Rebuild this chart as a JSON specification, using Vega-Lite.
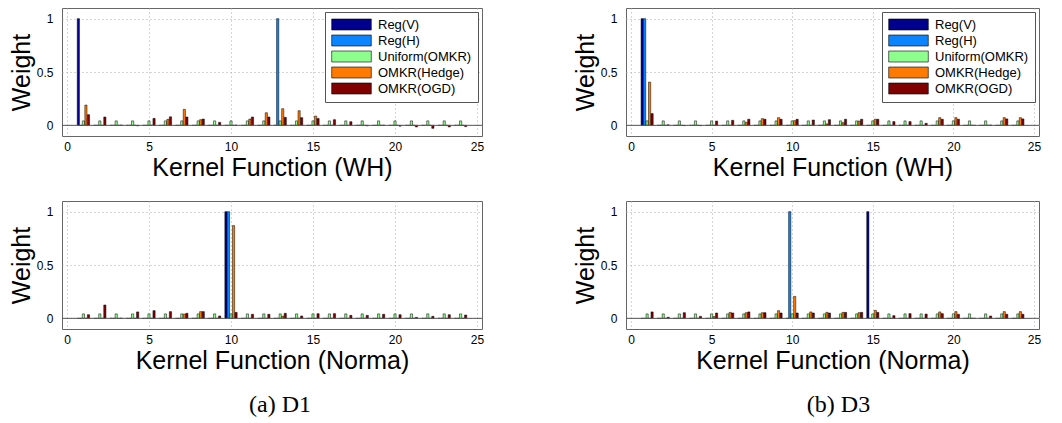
{
  "$schema": "https://vega.github.io/schema/vega-lite/v6.json",
  "padding": {"left": 8, "top": 7, "right": 5, "bottom": 5},
  "background": "white",
  "datasets": {
    "d1wh": [
      {"k":1,"Reg(V)":1,"Reg(H)":0,"Uniform(OMKR)":0.0417,"OMKR(Hedge)":0.19,"OMKR(OGD)":0.10},
      {"k":2,"Reg(V)":0,"Reg(H)":0,"Uniform(OMKR)":0.0417,"OMKR(Hedge)":0,"OMKR(OGD)":0.078},
      {"k":3,"Reg(V)":0,"Reg(H)":0,"Uniform(OMKR)":0.0417,"OMKR(Hedge)":0,"OMKR(OGD)":0.003},
      {"k":4,"Reg(V)":0,"Reg(H)":0,"Uniform(OMKR)":0.0417,"OMKR(Hedge)":0,"OMKR(OGD)":-0.005},
      {"k":5,"Reg(V)":0,"Reg(H)":0,"Uniform(OMKR)":0.0417,"OMKR(Hedge)":0,"OMKR(OGD)":0.065},
      {"k":6,"Reg(V)":0,"Reg(H)":0,"Uniform(OMKR)":0.0417,"OMKR(Hedge)":0.056,"OMKR(OGD)":0.08},
      {"k":7,"Reg(V)":0,"Reg(H)":0,"Uniform(OMKR)":0.0417,"OMKR(Hedge)":0.15,"OMKR(OGD)":0.078},
      {"k":8,"Reg(V)":0,"Reg(H)":0,"Uniform(OMKR)":0.0417,"OMKR(Hedge)":0.053,"OMKR(OGD)":0.059},
      {"k":9,"Reg(V)":0,"Reg(H)":0,"Uniform(OMKR)":0.0417,"OMKR(Hedge)":0,"OMKR(OGD)":0.028},
      {"k":10,"Reg(V)":0,"Reg(H)":0,"Uniform(OMKR)":0.0417,"OMKR(Hedge)":0,"OMKR(OGD)":0.002},
      {"k":11,"Reg(V)":0,"Reg(H)":0,"Uniform(OMKR)":0.0417,"OMKR(Hedge)":0.059,"OMKR(OGD)":0.078},
      {"k":12,"Reg(V)":0,"Reg(H)":0,"Uniform(OMKR)":0.0417,"OMKR(Hedge)":0.118,"OMKR(OGD)":0.078},
      {"k":13,"Reg(V)":0,"Reg(H)":1,"Uniform(OMKR)":0.0417,"OMKR(Hedge)":0.156,"OMKR(OGD)":0.075},
      {"k":14,"Reg(V)":0,"Reg(H)":0,"Uniform(OMKR)":0.0417,"OMKR(Hedge)":0.137,"OMKR(OGD)":0.072},
      {"k":15,"Reg(V)":0,"Reg(H)":0,"Uniform(OMKR)":0.0417,"OMKR(Hedge)":0.087,"OMKR(OGD)":0.065},
      {"k":16,"Reg(V)":0,"Reg(H)":0,"Uniform(OMKR)":0.0417,"OMKR(Hedge)":0,"OMKR(OGD)":0.053},
      {"k":17,"Reg(V)":0,"Reg(H)":0,"Uniform(OMKR)":0.0417,"OMKR(Hedge)":0,"OMKR(OGD)":0.034},
      {"k":18,"Reg(V)":0,"Reg(H)":0,"Uniform(OMKR)":0.0417,"OMKR(Hedge)":0,"OMKR(OGD)":-0.005},
      {"k":19,"Reg(V)":0,"Reg(H)":0,"Uniform(OMKR)":0.0417,"OMKR(Hedge)":0,"OMKR(OGD)":0.002},
      {"k":20,"Reg(V)":0,"Reg(H)":0,"Uniform(OMKR)":0.0417,"OMKR(Hedge)":0,"OMKR(OGD)":-0.008},
      {"k":21,"Reg(V)":0,"Reg(H)":0,"Uniform(OMKR)":0.0417,"OMKR(Hedge)":0,"OMKR(OGD)":-0.015},
      {"k":22,"Reg(V)":0,"Reg(H)":0,"Uniform(OMKR)":0.0417,"OMKR(Hedge)":0,"OMKR(OGD)":-0.028},
      {"k":23,"Reg(V)":0,"Reg(H)":0,"Uniform(OMKR)":0.0417,"OMKR(Hedge)":0,"OMKR(OGD)":-0.015},
      {"k":24,"Reg(V)":0,"Reg(H)":0,"Uniform(OMKR)":0.0417,"OMKR(Hedge)":0,"OMKR(OGD)":-0.012}
    ],
    "d3wh": [
      {"k":1,"Reg(V)":1,"Reg(H)":1,"Uniform(OMKR)":0.0417,"OMKR(Hedge)":0.405,"OMKR(OGD)":0.11},
      {"k":2,"Reg(V)":0,"Reg(H)":0,"Uniform(OMKR)":0.0417,"OMKR(Hedge)":0,"OMKR(OGD)":0.005},
      {"k":3,"Reg(V)":0,"Reg(H)":0,"Uniform(OMKR)":0.0417,"OMKR(Hedge)":0,"OMKR(OGD)":-0.003},
      {"k":4,"Reg(V)":0,"Reg(H)":0,"Uniform(OMKR)":0.0417,"OMKR(Hedge)":0,"OMKR(OGD)":-0.003},
      {"k":5,"Reg(V)":0,"Reg(H)":0,"Uniform(OMKR)":0.0417,"OMKR(Hedge)":0,"OMKR(OGD)":0.04},
      {"k":6,"Reg(V)":0,"Reg(H)":0,"Uniform(OMKR)":0.0417,"OMKR(Hedge)":0,"OMKR(OGD)":0.047},
      {"k":7,"Reg(V)":0,"Reg(H)":0,"Uniform(OMKR)":0.0417,"OMKR(Hedge)":0.028,"OMKR(OGD)":0.057},
      {"k":8,"Reg(V)":0,"Reg(H)":0,"Uniform(OMKR)":0.0417,"OMKR(Hedge)":0.063,"OMKR(OGD)":0.057},
      {"k":9,"Reg(V)":0,"Reg(H)":0,"Uniform(OMKR)":0.0417,"OMKR(Hedge)":0.072,"OMKR(OGD)":0.057},
      {"k":10,"Reg(V)":0,"Reg(H)":0,"Uniform(OMKR)":0.0417,"OMKR(Hedge)":0.044,"OMKR(OGD)":0.057},
      {"k":11,"Reg(V)":0,"Reg(H)":0,"Uniform(OMKR)":0.0417,"OMKR(Hedge)":0,"OMKR(OGD)":0.05},
      {"k":12,"Reg(V)":0,"Reg(H)":0,"Uniform(OMKR)":0.0417,"OMKR(Hedge)":0.013,"OMKR(OGD)":0.053},
      {"k":13,"Reg(V)":0,"Reg(H)":0,"Uniform(OMKR)":0.0417,"OMKR(Hedge)":0.025,"OMKR(OGD)":0.057},
      {"k":14,"Reg(V)":0,"Reg(H)":0,"Uniform(OMKR)":0.0417,"OMKR(Hedge)":0.04,"OMKR(OGD)":0.057},
      {"k":15,"Reg(V)":0,"Reg(H)":0,"Uniform(OMKR)":0.0417,"OMKR(Hedge)":0.057,"OMKR(OGD)":0.057},
      {"k":16,"Reg(V)":0,"Reg(H)":0,"Uniform(OMKR)":0.0417,"OMKR(Hedge)":0,"OMKR(OGD)":0.035},
      {"k":17,"Reg(V)":0,"Reg(H)":0,"Uniform(OMKR)":0.0417,"OMKR(Hedge)":0,"OMKR(OGD)":0.035},
      {"k":18,"Reg(V)":0,"Reg(H)":0,"Uniform(OMKR)":0.0417,"OMKR(Hedge)":0,"OMKR(OGD)":0.019},
      {"k":19,"Reg(V)":0,"Reg(H)":0,"Uniform(OMKR)":0.0417,"OMKR(Hedge)":0.072,"OMKR(OGD)":0.057},
      {"k":20,"Reg(V)":0,"Reg(H)":0,"Uniform(OMKR)":0.0417,"OMKR(Hedge)":0.072,"OMKR(OGD)":0.057},
      {"k":21,"Reg(V)":0,"Reg(H)":0,"Uniform(OMKR)":0.0417,"OMKR(Hedge)":0,"OMKR(OGD)":0},
      {"k":22,"Reg(V)":0,"Reg(H)":0,"Uniform(OMKR)":0.0417,"OMKR(Hedge)":0,"OMKR(OGD)":0.003},
      {"k":23,"Reg(V)":0,"Reg(H)":0,"Uniform(OMKR)":0.0417,"OMKR(Hedge)":0.072,"OMKR(OGD)":0.06},
      {"k":24,"Reg(V)":0,"Reg(H)":0,"Uniform(OMKR)":0.0417,"OMKR(Hedge)":0.072,"OMKR(OGD)":0.06}
    ],
    "d1no": [
      {"k":1,"Reg(V)":0,"Reg(H)":0,"Uniform(OMKR)":0.0417,"OMKR(Hedge)":0,"OMKR(OGD)":0.034},
      {"k":2,"Reg(V)":0,"Reg(H)":0,"Uniform(OMKR)":0.0417,"OMKR(Hedge)":0,"OMKR(OGD)":0.125},
      {"k":3,"Reg(V)":0,"Reg(H)":0,"Uniform(OMKR)":0.0417,"OMKR(Hedge)":0,"OMKR(OGD)":0.002},
      {"k":4,"Reg(V)":0,"Reg(H)":0,"Uniform(OMKR)":0.0417,"OMKR(Hedge)":0,"OMKR(OGD)":0.06},
      {"k":5,"Reg(V)":0,"Reg(H)":0,"Uniform(OMKR)":0.0417,"OMKR(Hedge)":0,"OMKR(OGD)":0.072},
      {"k":6,"Reg(V)":0,"Reg(H)":0,"Uniform(OMKR)":0.0417,"OMKR(Hedge)":0,"OMKR(OGD)":0.063},
      {"k":7,"Reg(V)":0,"Reg(H)":0,"Uniform(OMKR)":0.0417,"OMKR(Hedge)":0.04,"OMKR(OGD)":0.047},
      {"k":8,"Reg(V)":0,"Reg(H)":0,"Uniform(OMKR)":0.0417,"OMKR(Hedge)":0.063,"OMKR(OGD)":0.063},
      {"k":9,"Reg(V)":0,"Reg(H)":0,"Uniform(OMKR)":0.0417,"OMKR(Hedge)":0,"OMKR(OGD)":0.022},
      {"k":10,"Reg(V)":1,"Reg(H)":1,"Uniform(OMKR)":0.0417,"OMKR(Hedge)":0.87,"OMKR(OGD)":0.056},
      {"k":11,"Reg(V)":0,"Reg(H)":0,"Uniform(OMKR)":0.0417,"OMKR(Hedge)":0,"OMKR(OGD)":0.038},
      {"k":12,"Reg(V)":0,"Reg(H)":0,"Uniform(OMKR)":0.0417,"OMKR(Hedge)":0,"OMKR(OGD)":0.038},
      {"k":13,"Reg(V)":0,"Reg(H)":0,"Uniform(OMKR)":0.0417,"OMKR(Hedge)":0.02,"OMKR(OGD)":0.047},
      {"k":14,"Reg(V)":0,"Reg(H)":0,"Uniform(OMKR)":0.0417,"OMKR(Hedge)":0,"OMKR(OGD)":0.022},
      {"k":15,"Reg(V)":0,"Reg(H)":0,"Uniform(OMKR)":0.0417,"OMKR(Hedge)":0,"OMKR(OGD)":0.044},
      {"k":16,"Reg(V)":0,"Reg(H)":0,"Uniform(OMKR)":0.0417,"OMKR(Hedge)":0,"OMKR(OGD)":0.044},
      {"k":17,"Reg(V)":0,"Reg(H)":0,"Uniform(OMKR)":0.0417,"OMKR(Hedge)":0,"OMKR(OGD)":0.028},
      {"k":18,"Reg(V)":0,"Reg(H)":0,"Uniform(OMKR)":0.0417,"OMKR(Hedge)":0,"OMKR(OGD)":0.028},
      {"k":19,"Reg(V)":0,"Reg(H)":0,"Uniform(OMKR)":0.0417,"OMKR(Hedge)":0,"OMKR(OGD)":0.038},
      {"k":20,"Reg(V)":0,"Reg(H)":0,"Uniform(OMKR)":0.0417,"OMKR(Hedge)":0,"OMKR(OGD)":0.034},
      {"k":21,"Reg(V)":0,"Reg(H)":0,"Uniform(OMKR)":0.0417,"OMKR(Hedge)":0,"OMKR(OGD)":0.009},
      {"k":22,"Reg(V)":0,"Reg(H)":0,"Uniform(OMKR)":0.0417,"OMKR(Hedge)":0,"OMKR(OGD)":0.019},
      {"k":23,"Reg(V)":0,"Reg(H)":0,"Uniform(OMKR)":0.0417,"OMKR(Hedge)":0,"OMKR(OGD)":0.034},
      {"k":24,"Reg(V)":0,"Reg(H)":0,"Uniform(OMKR)":0.0417,"OMKR(Hedge)":0,"OMKR(OGD)":0.031}
    ],
    "d3no": [
      {"k":1,"Reg(V)":0,"Reg(H)":0,"Uniform(OMKR)":0.0417,"OMKR(Hedge)":0,"OMKR(OGD)":0.06},
      {"k":2,"Reg(V)":0,"Reg(H)":0,"Uniform(OMKR)":0.0417,"OMKR(Hedge)":0,"OMKR(OGD)":0.01},
      {"k":3,"Reg(V)":0,"Reg(H)":0,"Uniform(OMKR)":0.0417,"OMKR(Hedge)":0,"OMKR(OGD)":0.053},
      {"k":4,"Reg(V)":0,"Reg(H)":0,"Uniform(OMKR)":0.0417,"OMKR(Hedge)":0,"OMKR(OGD)":0.019},
      {"k":5,"Reg(V)":0,"Reg(H)":0,"Uniform(OMKR)":0.0417,"OMKR(Hedge)":0.016,"OMKR(OGD)":0.05},
      {"k":6,"Reg(V)":0,"Reg(H)":0,"Uniform(OMKR)":0.0417,"OMKR(Hedge)":0.056,"OMKR(OGD)":0.05},
      {"k":7,"Reg(V)":0,"Reg(H)":0,"Uniform(OMKR)":0.0417,"OMKR(Hedge)":0.053,"OMKR(OGD)":0.06},
      {"k":8,"Reg(V)":0,"Reg(H)":0,"Uniform(OMKR)":0.0417,"OMKR(Hedge)":0.053,"OMKR(OGD)":0.053},
      {"k":9,"Reg(V)":0,"Reg(H)":0,"Uniform(OMKR)":0.0417,"OMKR(Hedge)":0.072,"OMKR(OGD)":0.05},
      {"k":10,"Reg(V)":0,"Reg(H)":1,"Uniform(OMKR)":0.0417,"OMKR(Hedge)":0.206,"OMKR(OGD)":0.05},
      {"k":11,"Reg(V)":0,"Reg(H)":0,"Uniform(OMKR)":0.0417,"OMKR(Hedge)":0.06,"OMKR(OGD)":0.05},
      {"k":12,"Reg(V)":0,"Reg(H)":0,"Uniform(OMKR)":0.0417,"OMKR(Hedge)":0.056,"OMKR(OGD)":0.05},
      {"k":13,"Reg(V)":0,"Reg(H)":0,"Uniform(OMKR)":0.0417,"OMKR(Hedge)":0.056,"OMKR(OGD)":0.056},
      {"k":14,"Reg(V)":0,"Reg(H)":0,"Uniform(OMKR)":0.0417,"OMKR(Hedge)":0.053,"OMKR(OGD)":0.056},
      {"k":15,"Reg(V)":1,"Reg(H)":0,"Uniform(OMKR)":0.0417,"OMKR(Hedge)":0.075,"OMKR(OGD)":0.056},
      {"k":16,"Reg(V)":0,"Reg(H)":0,"Uniform(OMKR)":0.0417,"OMKR(Hedge)":0,"OMKR(OGD)":0.025},
      {"k":17,"Reg(V)":0,"Reg(H)":0,"Uniform(OMKR)":0.0417,"OMKR(Hedge)":0,"OMKR(OGD)":0.044},
      {"k":18,"Reg(V)":0,"Reg(H)":0,"Uniform(OMKR)":0.0417,"OMKR(Hedge)":0,"OMKR(OGD)":0.04},
      {"k":19,"Reg(V)":0,"Reg(H)":0,"Uniform(OMKR)":0.0417,"OMKR(Hedge)":0.06,"OMKR(OGD)":0.044},
      {"k":20,"Reg(V)":0,"Reg(H)":0,"Uniform(OMKR)":0.0417,"OMKR(Hedge)":0.063,"OMKR(OGD)":0.038},
      {"k":21,"Reg(V)":0,"Reg(H)":0,"Uniform(OMKR)":0.0417,"OMKR(Hedge)":0,"OMKR(OGD)":0},
      {"k":22,"Reg(V)":0,"Reg(H)":0,"Uniform(OMKR)":0.0417,"OMKR(Hedge)":0,"OMKR(OGD)":0.022},
      {"k":23,"Reg(V)":0,"Reg(H)":0,"Uniform(OMKR)":0.0417,"OMKR(Hedge)":0.063,"OMKR(OGD)":0.038},
      {"k":24,"Reg(V)":0,"Reg(H)":0,"Uniform(OMKR)":0.0417,"OMKR(Hedge)":0.063,"OMKR(OGD)":0.038}
    ],
    "zero": [{}]
  },
  "columns": 2,
  "spacing": {"row": 19, "column": 87},
  "resolve": {"legend": {"color": "independent"}},
  "concat": [
    {
      "width": 420, "height": 128,
      "layer": [
        {
          "data": {"name": "d1wh"},
          "transform": [
            {"fold": ["Reg(V)","Reg(H)","Uniform(OMKR)","OMKR(Hedge)","OMKR(OGD)"], "as": ["s","w"]},
            {"calculate": "datum.k + indexof(['Reg(V)','Reg(H)','Uniform(OMKR)','OMKR(Hedge)','OMKR(OGD)'], datum.s) * 0.154 - 0.308", "as": "xp"}
          ],
          "mark": {"type": "bar", "width": 2.2, "stroke": "black", "strokeWidth": 0.5},
          "encoding": {
            "x": {"field": "xp", "type": "quantitative", "scale": {"domain": [0,25], "nice": false}, "axis": {"values": [0,5,10,15,20,25], "format": "d", "title": "Kernel Function (WH)"}},
            "y": {"field": "w", "type": "quantitative", "stack": null, "scale": {"domain": [-0.1,1.1], "nice": false, "zero": false}, "axis": {"values": [0,0.5,1], "format": "~g", "title": "Weight"}},
            "color": {"field": "s", "type": "nominal", "scale": {"domain": ["Reg(V)","Reg(H)","Uniform(OMKR)","OMKR(Hedge)","OMKR(OGD)"], "range": ["#00008F","#0A84FF","#8CFF8C","#FF7A00","#800000"]}, "legend": {"orient": "top-right"}}
          }
        },
        {"data": {"name": "zero"}, "mark": {"type": "rule", "color": "#555", "strokeWidth": 1}, "encoding": {"y": {"datum": 0}}}
      ]
    },
    {
      "width": 413, "height": 128,
      "layer": [
        {
          "data": {"name": "d3wh"},
          "transform": [
            {"fold": ["Reg(V)","Reg(H)","Uniform(OMKR)","OMKR(Hedge)","OMKR(OGD)"], "as": ["s","w"]},
            {"calculate": "datum.k + indexof(['Reg(V)','Reg(H)','Uniform(OMKR)','OMKR(Hedge)','OMKR(OGD)'], datum.s) * 0.154 - 0.308", "as": "xp"}
          ],
          "mark": {"type": "bar", "width": 2.2, "stroke": "black", "strokeWidth": 0.5},
          "encoding": {
            "x": {"field": "xp", "type": "quantitative", "scale": {"domain": [0,25], "nice": false}, "axis": {"values": [0,5,10,15,20,25], "format": "d", "title": "Kernel Function (WH)"}},
            "y": {"field": "w", "type": "quantitative", "stack": null, "scale": {"domain": [-0.1,1.1], "nice": false, "zero": false}, "axis": {"values": [0,0.5,1], "format": "~g", "title": "Weight"}},
            "color": {"field": "s", "type": "nominal", "scale": {"domain": ["Reg(V)","Reg(H)","Uniform(OMKR)","OMKR(Hedge)","OMKR(OGD)"], "range": ["#00008F","#0A84FF","#8CFF8C","#FF7A00","#800000"]}, "legend": {"orient": "top-right"}}
          }
        },
        {"data": {"name": "zero"}, "mark": {"type": "rule", "color": "#555", "strokeWidth": 1}, "encoding": {"y": {"datum": 0}}}
      ]
    },
    {
      "width": 420, "height": 128,
      "title": {"text": "(a) D1", "orient": "bottom", "dx": 8},
      "layer": [
        {
          "data": {"name": "d1no"},
          "transform": [
            {"fold": ["Reg(V)","Reg(H)","Uniform(OMKR)","OMKR(Hedge)","OMKR(OGD)"], "as": ["s","w"]},
            {"calculate": "datum.k + indexof(['Reg(V)','Reg(H)','Uniform(OMKR)','OMKR(Hedge)','OMKR(OGD)'], datum.s) * 0.154 - 0.308", "as": "xp"}
          ],
          "mark": {"type": "bar", "width": 2.2, "stroke": "black", "strokeWidth": 0.5},
          "encoding": {
            "x": {"field": "xp", "type": "quantitative", "scale": {"domain": [0,25], "nice": false}, "axis": {"values": [0,5,10,15,20,25], "format": "d", "title": "Kernel Function (Norma)"}},
            "y": {"field": "w", "type": "quantitative", "stack": null, "scale": {"domain": [-0.1,1.1], "nice": false, "zero": false}, "axis": {"values": [0,0.5,1], "format": "~g", "title": "Weight"}},
            "color": {"field": "s", "type": "nominal", "scale": {"domain": ["Reg(V)","Reg(H)","Uniform(OMKR)","OMKR(Hedge)","OMKR(OGD)"], "range": ["#00008F","#0A84FF","#8CFF8C","#FF7A00","#800000"]}, "legend": null}
          }
        },
        {"data": {"name": "zero"}, "mark": {"type": "rule", "color": "#555", "strokeWidth": 1}, "encoding": {"y": {"datum": 0}}}
      ]
    },
    {
      "width": 413, "height": 128,
      "title": {"text": "(b) D3", "orient": "bottom", "dx": 6},
      "layer": [
        {
          "data": {"name": "d3no"},
          "transform": [
            {"fold": ["Reg(V)","Reg(H)","Uniform(OMKR)","OMKR(Hedge)","OMKR(OGD)"], "as": ["s","w"]},
            {"calculate": "datum.k + indexof(['Reg(V)','Reg(H)','Uniform(OMKR)','OMKR(Hedge)','OMKR(OGD)'], datum.s) * 0.154 - 0.308", "as": "xp"}
          ],
          "mark": {"type": "bar", "width": 2.2, "stroke": "black", "strokeWidth": 0.5},
          "encoding": {
            "x": {"field": "xp", "type": "quantitative", "scale": {"domain": [0,25], "nice": false}, "axis": {"values": [0,5,10,15,20,25], "format": "d", "title": "Kernel Function (Norma)"}},
            "y": {"field": "w", "type": "quantitative", "stack": null, "scale": {"domain": [-0.1,1.1], "nice": false, "zero": false}, "axis": {"values": [0,0.5,1], "format": "~g", "title": "Weight"}},
            "color": {"field": "s", "type": "nominal", "scale": {"domain": ["Reg(V)","Reg(H)","Uniform(OMKR)","OMKR(Hedge)","OMKR(OGD)"], "range": ["#00008F","#0A84FF","#8CFF8C","#FF7A00","#800000"]}, "legend": null}
          }
        },
        {"data": {"name": "zero"}, "mark": {"type": "rule", "color": "#555", "strokeWidth": 1}, "encoding": {"y": {"datum": 0}}}
      ]
    }
  ],
  "config": {
    "font": "Liberation Sans",
    "view": {"stroke": "#666", "strokeWidth": 1},
    "axis": {
      "labelFont": "Liberation Sans", "labelFontSize": 12, "labelColor": "black",
      "titleFont": "Liberation Sans", "titleFontSize": 25, "titleFontWeight": "normal", "titleColor": "black",
      "domain": false, "ticks": false,
      "gridColor": "#aaa", "gridDash": [1, 3], "gridWidth": 1
    },
    "axisX": {"labelPadding": 5, "titlePadding": 3},
    "axisY": {"labelPadding": 9, "titlePadding": 2},
    "legend": {
      "title": null, "offset": 4, "fillColor": "white", "strokeColor": "#555", "padding": 6,
      "labelFont": "Liberation Sans", "labelFontSize": 13, "labelColor": "black", "labelOffset": 20,
      "symbolType": "M-3.6,-1H3.6V1H-3.6Z", "symbolSize": 121, "symbolOffset": 14,
      "symbolStrokeColor": "black", "symbolStrokeWidth": 0.6, "symbolOpacity": 1, "rowPadding": 1
    },
    "title": {"font": "Liberation Serif", "fontSize": 24, "fontWeight": "normal", "color": "black", "offset": 20}
  }
}
